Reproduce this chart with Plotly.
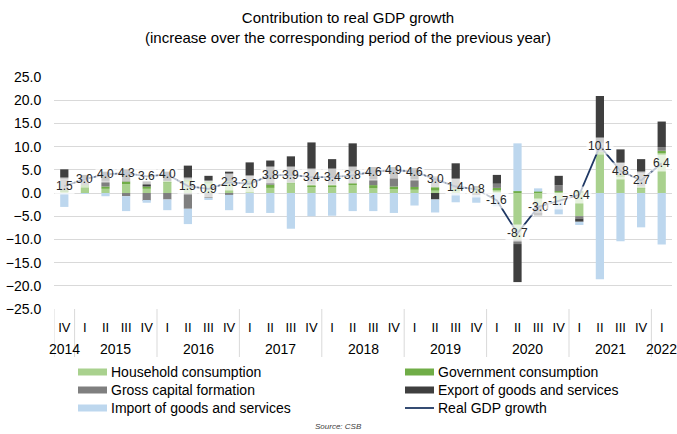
import plotly.graph_objects as go

years = ['2014', '2015', '2016', '2017', '2018', '2019', '2020', '2021', '2022']
year_quarters = [1, 4, 4, 4, 4, 4, 4, 4, 1]   # number of quarters shown per year
quarters = ['IV'] + ['I', 'II', 'III', 'IV'] * 7 + ['I']

household = [0.4, 1.4, 0.9, 1.9, 0.9, 2.3, 2.4, 2.0, 2.2, 2.2, 1.1, 2.0, 1.5, 1.5, 1.8, 1.0, 1.0, 0.7, 0.5, 0.6,
             0.8, 0.8, -10.0, -2.6, -1.8, -5.0, 8.6, 3.6, 1.0, 8.6]
government = [0.2, 0.3, 0.5, 0.6, 0.5, 0.3, 0.5, 0.5, 0.4, 0.5, 0.7, 0.3, 0.3, 0.3, 0.3, 0.7, 0.4, 0.6, 0.8, 0.3,
              0.3, 0.3, 0.4, 0.3, 0.4, 0.5, 0.3, 0.3, 0.4, 0.5]
capital = [2.4, 1.4, 1.2, -0.7, -1.7, -1.4, -3.4, -1.1, -0.4, 1.0, 1.1, 1.6, 3.2, 1.6, 2.5, 1.2, 1.8, 1.6, 2.3, 2.0,
           -0.5, 0.9, -1.0, -1.9, 1.3, -0.5, 1.9, 2.5, 2.9, 0.8]
exports = [2.1, 0.8, 2.0, 2.6, 1.1, 2.0, 3.0, 1.2, 2.0, 2.9, 4.1, 4.0, 5.9, 3.9, 6.1, 2.7, 2.4, 2.5, -1.4, 3.5,
           0.3, 1.9, -8.2, -0.3, 2.0, -0.7, 10.1, 3.0, 3.0, 5.5]
imports = [-3.0, -0.2, -0.7, -3.2, -0.4, -2.3, -3.3, -0.4, -3.3, -4.3, -4.3, -7.7, -5.0, -4.9, -3.9, -3.9, -4.3, -2.7,
           -2.8, -2.0, -1.6, -2.9, 10.3, 0.7, -2.8, -0.7, -18.6, -10.4, -7.4, -11.1]
gdp = [1.5, 3.0, 4.0, 4.3, 3.6, 4.0, 1.5, 0.9, 2.3, 2.0, 3.8, 3.9, 3.4, 3.4, 3.8, 4.6, 4.9, 4.6, 3.0, 1.4,
       0.8, -1.6, -8.7, -3.0, -1.7, -0.4, 10.1, 4.8, 2.7, 6.4]

yticks = [25, 20, 15, 10, 5, 0, -5, -10, -15, -20, -25]

FONT = "Arial, Liberation Sans, sans-serif"
W, H = 677, 434
ML, MR, MT, MB = 54, 5, 77, 125
PW, PH = W - ML - MR, H - MT - MB


def px_x(px):
    return (px - ML) / PW


def px_y(py):
    return (H - MB - py) / PH


xs = list(range(len(quarters)))

fig = go.Figure()
series = [
    ("Household consumption", household, "#a9d18e"),
    ("Government consumption", government, "#70ad47"),
    ("Gross capital formation", capital, "#7f7f7f"),
    ("Export of goods and services", exports, "#3f3f3f"),
    ("Import of goods and services", imports, "#bdd7ee"),
]
for name, vals, col in series:
    fig.add_trace(go.Bar(x=xs, y=vals, name=name, marker=dict(color=col, line=dict(width=0))))

fig.add_trace(go.Scatter(x=xs, y=gdp, name="Real GDP growth", mode="lines",
                         line=dict(color="#1f3864", width=1.8)))

# data labels for GDP growth
for i, v in enumerate(gdp):
    fig.add_annotation(x=i, y=v, xref="x", yref="y", text=f"{v:.1f}", showarrow=False,
                       font=dict(family=FONT, size=12, color="#262626"),
                       bgcolor="rgba(255,255,255,0.72)", borderpad=1)

# year labels and dividers (second level of the category axis)
shapes = []
start = 0
shapes.append(dict(type="line", xref="x", yref="paper", x0=-0.5, x1=-0.5, y0=0, y1=px_y(357),
                   line=dict(color="#d9d9d9", width=1)))
for yr, n in zip(years, year_quarters):
    center = start + (n - 1) / 2
    fig.add_annotation(x=center, y=px_y(349), xref="x", yref="paper", text=yr, showarrow=False,
                       font=dict(family=FONT, size=14, color="#000000"), yanchor="middle")
    end = start + n
    if end < len(quarters):
        shapes.append(dict(type="line", xref="x", yref="paper", x0=end - 0.5, x1=end - 0.5,
                           y0=0, y1=px_y(357), line=dict(color="#d9d9d9", width=1)))
    start = end

# title
fig.add_annotation(x=px_x(348), y=px_y(28), xref="paper", yref="paper",
                   text="Contribution to real GDP growth<br>(increase over the corresponding period of the previous year)",
                   showarrow=False, font=dict(family=FONT, size=15, color="#000000"),
                   xanchor="center", yanchor="middle", align="center")

# manual legend (two columns)
legend_items = [
    ("Household consumption", "#a9d18e", "bar", 78, 372),
    ("Government consumption", "#70ad47", "bar", 405, 372),
    ("Gross capital formation", "#7f7f7f", "bar", 78, 390),
    ("Export of goods and services", "#3f3f3f", "bar", 405, 390),
    ("Import of goods and services", "#bdd7ee", "bar", 78, 408),
    ("Real GDP growth", "#1f3864", "line", 405, 408),
]
for label, col, kind, lx, ly in legend_items:
    if kind == "bar":
        shapes.append(dict(type="rect", xref="paper", yref="paper",
                           x0=px_x(lx), x1=px_x(lx + 29), y0=px_y(ly + 3.5), y1=px_y(ly - 3.5),
                           fillcolor=col, line=dict(width=0)))
    else:
        shapes.append(dict(type="line", xref="paper", yref="paper",
                           x0=px_x(lx), x1=px_x(lx + 29), y0=px_y(ly), y1=px_y(ly),
                           line=dict(color=col, width=1.8)))
    fig.add_annotation(x=px_x(lx + 31), y=px_y(ly), xref="paper", yref="paper", text=label,
                       showarrow=False, xanchor="left", yanchor="middle",
                       font=dict(family=FONT, size=14, color="#000000"))

fig.add_annotation(x=px_x(338), y=px_y(433), xref="paper", yref="paper", text="<i>Source: CSB</i>",
                   showarrow=False, font=dict(family=FONT, size=8, color="#404040"),
                   xanchor="center", yanchor="bottom")

fig.update_layout(
    width=W, height=H,
    margin=dict(l=ML, r=MR, t=MT, b=MB, autoexpand=False),
    paper_bgcolor="white", plot_bgcolor="white",
    barmode="relative", bargap=0.6,
    showlegend=False,
    font=dict(family=FONT, size=13, color="#000000"),
    shapes=shapes,
    xaxis=dict(range=[-0.5, len(quarters) - 0.5], tickmode="array", tickvals=xs, ticktext=quarters,
               showgrid=False, showline=False, zeroline=False, ticks="outside", ticklen=6,
               tickcolor="rgba(0,0,0,0)", tickangle=0, automargin=False,
               tickfont=dict(family=FONT, size=13, color="#000000")),
    yaxis=dict(range=[-25, 25], tickvals=yticks, tickformat=".1f", showgrid=True, gridcolor="#d9d9d9",
               gridwidth=1, zeroline=False, showline=False, ticks="outside", ticklen=9,
               tickcolor="rgba(0,0,0,0)", automargin=False,
               tickfont=dict(family=FONT, size=14, color="#000000")),
)

fig.write_html("out.html")
